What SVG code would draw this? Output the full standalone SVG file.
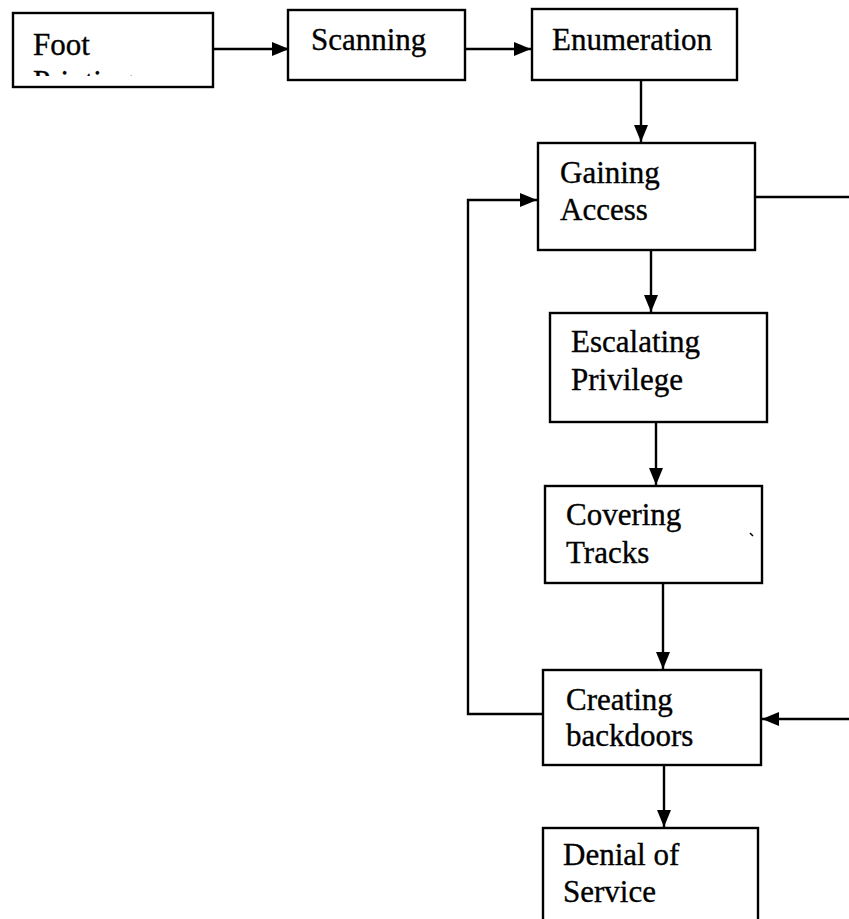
<svg xmlns="http://www.w3.org/2000/svg" width="849" height="919" viewBox="0 0 849 919">
  <style>
    .box { fill: #fff; stroke: #000; stroke-width: 2.4; }
    .lbl { font-family: 'Liberation Serif', 'DejaVu Serif', 'Times New Roman', serif; font-size: 31px; fill: #000; stroke: #000; stroke-width: 0.35; }
    .edge { fill: none; stroke: #000; stroke-width: 2.4; }
  </style>
  <defs>
    <marker id="arrow" markerUnits="userSpaceOnUse" markerWidth="17" markerHeight="17" viewBox="0 0 17 17" refX="17" refY="8.5" orient="auto">
      <path d="M0,1.5 L17,8.5 L0,15.5 Z" fill="#000"/>
    </marker>
    <clipPath id="footClip">
      <rect x="13" y="13" width="200" height="63"/>
    </clipPath>
  </defs>
  <rect width="849" height="919" fill="#fff"/>

  <g id="connectors">
    <line class="edge" x1="214" y1="49" x2="289" y2="49" marker-end="url(#arrow)"/>
    <line class="edge" x1="466" y1="49" x2="531" y2="49" marker-end="url(#arrow)"/>
    <line class="edge" x1="641" y1="80" x2="641" y2="142" marker-end="url(#arrow)"/>
    <line class="edge" x1="651" y1="250" x2="651" y2="312" marker-end="url(#arrow)"/>
    <line class="edge" x1="656" y1="422" x2="656" y2="485" marker-end="url(#arrow)"/>
    <line class="edge" x1="663" y1="583" x2="663" y2="669" marker-end="url(#arrow)"/>
    <line class="edge" x1="664" y1="765" x2="664" y2="827" marker-end="url(#arrow)"/>
    <!-- loop back from backdoors to access -->
    <path class="edge" d="M543,714 H468 V200 H537" marker-end="url(#arrow)"/>
    <!-- branch out to the right of access, and back in to backdoors -->
    <line class="edge" x1="755" y1="197" x2="849" y2="197"/>
    <line class="edge" x1="849" y1="719" x2="762" y2="719" marker-end="url(#arrow)"/>
  </g>

  <g id="footprinting">
    <rect class="box" x="13" y="13" width="200" height="74"/>
    <text class="lbl" x="33" y="55">Foot</text>
    <text class="lbl" x="33" y="92" clip-path="url(#footClip)">Printing</text>
  </g>

  <g id="scanning">
    <rect class="box" x="288" y="10" width="177" height="70"/>
    <text class="lbl" x="311" y="50">Scanning</text>
  </g>

  <g id="enumeration">
    <rect class="box" x="532" y="9" width="205" height="71"/>
    <text class="lbl" x="552" y="50">Enumeration</text>
  </g>

  <g id="gaining-access">
    <rect class="box" x="538" y="143" width="217" height="107"/>
    <text class="lbl" x="560" y="183">Gaining</text>
    <text class="lbl" x="560" y="220">Access</text>
  </g>

  <g id="escalating-privilege">
    <rect class="box" x="550" y="313" width="217" height="109"/>
    <text class="lbl" x="571" y="352">Escalating</text>
    <text class="lbl" x="571" y="390">Privilege</text>
  </g>

  <g id="covering-tracks">
    <rect class="box" x="545" y="486" width="217" height="97"/>
    <text class="lbl" x="566" y="525">Covering</text>
    <text class="lbl" x="566" y="563">Tracks</text>
    <line x1="750" y1="533" x2="753" y2="536" stroke="#000" stroke-width="1.5"/>
  </g>

  <g id="creating-backdoors">
    <rect class="box" x="543" y="670" width="218" height="95"/>
    <text class="lbl" x="566" y="710">Creating</text>
    <text class="lbl" x="566" y="746">backdoors</text>
  </g>

  <g id="denial-of-service">
    <rect class="box" x="543" y="828" width="215" height="110"/>
    <text class="lbl" x="563" y="865">Denial of</text>
    <text class="lbl" x="563" y="902">Service</text>
  </g>
</svg>
